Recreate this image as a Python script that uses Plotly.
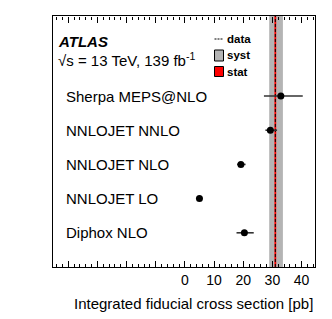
import plotly.graph_objects as go

# ---- data ----
labels = ["Sherpa MEPS@NLO", "NNLOJET NNLO", "NNLOJET NLO", "NNLOJET LO", "Diphox NLO"]
ypos = [5, 4, 3, 2, 1]
xsec = [32.9, 29.3, 19.2, 5.0, 20.4]
err_up = [7.5, 2.3, 1.6, 0.0, 3.2]
err_dn = [5.8, 1.7, 1.3, 0.0, 2.7]

data_val = 31.0
syst_lo, syst_hi = 28.9, 33.6
stat_lo, stat_hi = 30.7, 31.3

label_ticks = [0, 10, 20, 30, 40]
label_text = ["0", "10", "20", "30", "40"]
major_ticks = [-40, -30, -20, -10, 0, 10, 20, 30, 40]
minor_ticks = [v for v in range(-44, 45, 2) if v % 10 != 0]

FONT = "Liberation Sans, Arial, sans-serif"
XR = [-45.2, 44.6]

OFF = 8
L, R, T, B = 53, 315, 16, 267
W, H = 332 - OFF, 319 - OFF


def px(xp):
    return (xp - L) / (R - L)


def py(yp):
    return (B - yp) / (B - T)


fig = go.Figure()

fig.add_trace(go.Scatter(
    x=xsec, y=ypos, mode="markers",
    marker=dict(color="black", size=7),
    error_x=dict(type="data", array=err_up, arrayminus=err_dn,
                 color="#333333", thickness=1.6, width=0, symmetric=False),
    showlegend=False, hoverinfo="skip",
))
for ax in ["x2", "x3", "x4", "x5"]:
    fig.add_trace(go.Scatter(x=[0], y=[-10], xaxis=ax, mode="markers", showlegend=False,
                             hoverinfo="skip", marker=dict(opacity=0)))

shapes = [
    dict(type="rect", xref="x", yref="paper", x0=syst_lo, x1=syst_hi, y0=0, y1=1,
         fillcolor="#b4b4b4", line=dict(width=0), layer="below"),
    dict(type="rect", xref="x", yref="paper", x0=stat_lo, x1=stat_hi, y0=0, y1=1,
         fillcolor="#ff0000", line=dict(width=0), layer="below"),
    dict(type="line", xref="x", yref="paper", x0=data_val, x1=data_val, y0=0, y1=1,
         line=dict(color="black", width=1, dash="3px,2px"), layer="below"),
    dict(type="line", xref="paper", yref="paper", x0=px(214.5), x1=px(223), y0=py(39), y1=py(39),
         line=dict(color="black", width=1, dash="2px,1px")),
    dict(type="rect", xref="paper", yref="paper", x0=px(214.5), x1=px(223.5), y0=py(61), y1=py(50),
         fillcolor="#b4b4b4", line=dict(color="black", width=1)),
    dict(type="rect", xref="paper", yref="paper", x0=px(214.5), x1=px(223.5), y0=py(76.5), y1=py(66.5),
         fillcolor="#ff0000", line=dict(color="black", width=1)),
]

annotations = []
for lab, yv in zip(labels, ypos):
    annotations.append(dict(x=-41.3, y=yv, xref="x", yref="y", text=lab, showarrow=False,
                            xanchor="left", yanchor="middle",
                            font=dict(family=FONT, size=15, color="black")))

annotations += [
    dict(x=px(55.5), y=py(41.5), xref="paper", yref="paper", text="<b><i>ATLAS</i></b>",
         showarrow=False, xanchor="left", yanchor="middle",
         font=dict(family=FONT, size=15, color="black")),
    dict(x=px(55.5), y=py(60), xref="paper", yref="paper",
         text="√s = 13 TeV, 139 fb<sup>-1</sup>",
         showarrow=False, xanchor="left", yanchor="middle",
         font=dict(family=FONT, size=15, color="black")),
    dict(x=px(224.5), y=py(39), xref="paper", yref="paper", text="<b>data</b>",
         showarrow=False, xanchor="left", yanchor="middle",
         font=dict(family=FONT, size=11.5, color="black")),
    dict(x=px(224.5), y=py(55.5), xref="paper", yref="paper", text="<b>syst</b>",
         showarrow=False, xanchor="left", yanchor="middle",
         font=dict(family=FONT, size=11.5, color="black")),
    dict(x=px(224.5), y=py(71.5), xref="paper", yref="paper", text="<b>stat</b>",
         showarrow=False, xanchor="left", yanchor="middle",
         font=dict(family=FONT, size=11.5, color="black")),
    dict(x=1.0, y=py(303), xref="paper", yref="paper",
         text="Integrated fiducial cross section [pb]",
         showarrow=False, xanchor="right", yanchor="middle",
         font=dict(family=FONT, size=15, color="black")),
]


def bottom_ticks(vals, length):
    return dict(overlaying="x", anchor="y", side="bottom", range=XR, showgrid=False,
                zeroline=False, showline=False, ticks="inside", ticklen=length,
                tickcolor="black", tickwidth=1, tickmode="array", tickvals=vals,
                showticklabels=False)


def top_ticks(vals, length):
    # a bottom-side axis placed at the top edge: its outside ticks point down into the frame
    return dict(overlaying="x", anchor="free", position=1.0, side="bottom", range=XR,
                showgrid=False, zeroline=False, showline=False, ticks="outside",
                ticklen=length, tickcolor="black", tickwidth=1, tickmode="array",
                tickvals=vals, showticklabels=False)


fig.update_layout(
    width=W, height=H,
    margin=dict(l=L - OFF, r=332 - R, t=T - OFF, b=319 - B, autoexpand=False),
    plot_bgcolor="white", paper_bgcolor="white",
    shapes=shapes, annotations=annotations,
    font=dict(family=FONT, color="black"),
    xaxis=dict(
        range=XR, showgrid=False, zeroline=False,
        showline=True, linecolor="black", linewidth=1, mirror=True,
        ticks="inside", ticklen=6, tickcolor="rgba(0,0,0,0)",
        tickmode="array", tickvals=label_ticks, ticktext=label_text,
        tickfont=dict(family=FONT, size=14, color="black"),
    ),
    xaxis2=top_ticks(major_ticks, 6),
    xaxis3=bottom_ticks(major_ticks, 6),
    xaxis4=top_ticks(minor_ticks, 3),
    xaxis5=bottom_ticks(minor_ticks, 3),
    yaxis=dict(
        range=[0, 7.34], showgrid=False, zeroline=False,
        showline=True, linecolor="black", linewidth=1, mirror=True,
        ticks="", showticklabels=False,
    ),
)

fig.write_html("out.html")
